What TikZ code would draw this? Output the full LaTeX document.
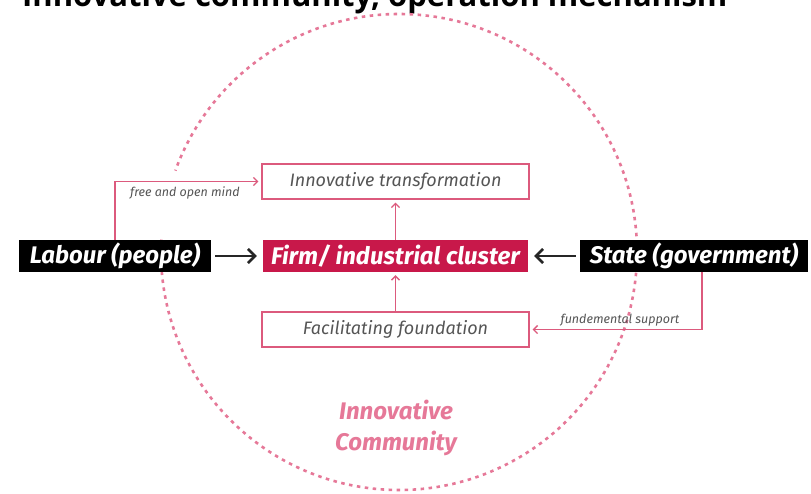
\documentclass[tikz,border=0pt]{standalone}
\usepackage{fontspec}
\setmainfont{Fira Sans}
\newfontfamily\titlefont{Open Sans}
\usetikzlibrary{arrows.meta}
\definecolor{pinkline}{RGB}{220,90,125}
\definecolor{pinkdash}{RGB}{230,120,152}
\definecolor{firmred}{RGB}{200,24,74}
\definecolor{textgray}{RGB}{85,85,85}
\tikzset{
  blackbox/.style={fill=black, text=white, inner sep=0pt, minimum height=32pt,
    font=\fontsize{24}{26}\selectfont\bfseries\itshape},
  firmbox/.style={fill=firmred, text=white, inner sep=0pt, minimum height=32pt,
    font=\fontsize{24}{26}\selectfont\bfseries\itshape},
  whitebox/.style={draw=pinkline, line width=1.3pt, fill=white, inner sep=0pt,
    minimum width=267pt, minimum height=35pt, text=textgray,
    font=\fontsize{18}{20}\selectfont\itshape},
  blackarrow/.style={draw=black!85, line width=2.6pt, -{Straight Barb[length=7pt, width=14pt, line width=2.6pt]},
    shorten >=6pt, shorten <=4pt},
  pinkarrow/.style={draw=pinkline, line width=1.3pt, -{Straight Barb[length=4pt, width=8pt]},
    shorten >=3pt},
  smalllabel/.style={text=textgray, font=\fontsize{12.5}{14}\selectfont\itshape, inner sep=1pt},
  circ/.style={draw=pinkdash, line width=2.6pt, dash pattern=on 3.5pt off 4.5pt},
  commlabel/.style={text=pinkdash, font=\fontsize{24}{31}\selectfont\bfseries\itshape, align=center}
}
\begin{document}
\begin{tikzpicture}[x=1pt,y=1pt]
\useasboundingbox (0,0) rectangle (811,-493);
\clip (0,0) rectangle (811,-493);
\fill[white] (0,0) rectangle (811,-493);
% title (cut off at top)
\node[anchor=base west, inner sep=0pt, font=\titlefont\fontsize{31}{34}\selectfont\bfseries] (title) at (22,-6) {Innovative community, operation mechanism};
% community circle
\coordinate (cc) at (399,-252);
\draw[circ] (cc) ++(177:238) arc[start angle=177, end angle=520, radius=238];
% boxes
\node[blackbox, minimum width=192pt] (labour) at (115,-256) {Labour (people)};
\node[firmbox, minimum width=265pt] (firm) at (395.5,-256) {Firm/ industrial cluster};
\node[blackbox, minimum width=228pt] (state) at (694,-256) {State (government)};
\node[whitebox] (innov) at (395.5,-181.5) {Innovative transformation};
\node[whitebox] (facil) at (395.5,-329.5) {Facilitating foundation};
% connectors
\draw[blackarrow] (labour) -- (firm);
\draw[blackarrow] (state) -- (firm);
\draw[pinkarrow] (firm) -- (innov);
\draw[pinkarrow] (facil) -- (firm);
\draw[pinkarrow] (labour.north) |- (innov.west);
\draw[pinkarrow] ([xshift=8pt]state.south) |- (facil.east);
\node[smalllabel] (lfree) at (185,-193) {free and open mind};
\node[smalllabel] (lfund) at (620,-320) {fundemental support};
\node[commlabel] (comm) at (396,-428) {Innovative\\Community};
\end{tikzpicture}
\end{document}
